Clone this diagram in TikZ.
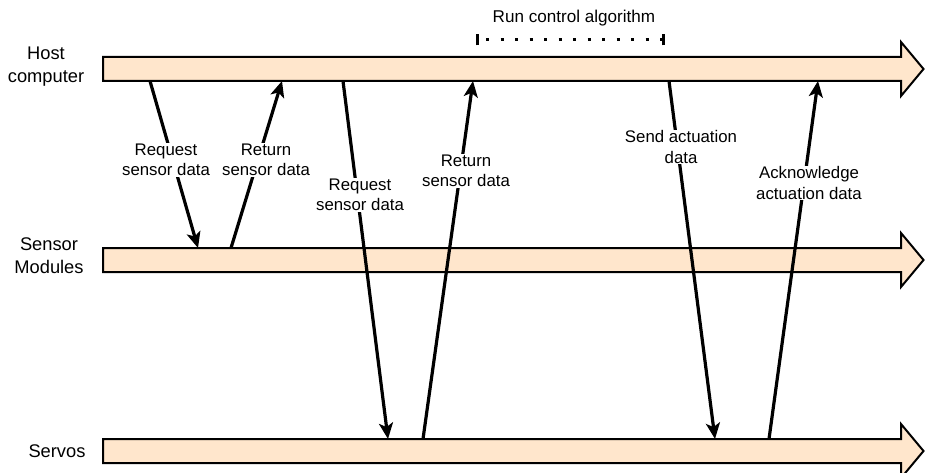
\documentclass[tikz,border=0pt]{standalone}
\usepackage{fontspec}
\setmainfont{Liberation Sans}
\usetikzlibrary{arrows.meta}
\definecolor{peach}{HTML}{FFE6CC}
\tikzset{
  band/.style={draw=black, line width=2pt, fill=peach, line join=miter},
  msg/.style={line width=3.2pt, -{Stealth[length=16pt,width=14pt,inset=4pt]}},
  lbl/.style={fill=white, inner sep=1pt, align=center, font=\fontsize{16.8}{20.5}\selectfont},
  side/.style={align=center, font=\fontsize{18.3}{23}\selectfont},
  tick/.style={line width=3pt}
}
\begin{document}
\begin{tikzpicture}[x=1pt,y=-1pt]
\useasboundingbox (0,0) rectangle (925,473);
% bands
\newcommand{\bandat}[1]{%
  \draw[band] (103,#1-12) -- (901,#1-12) -- (901,#1-27) -- (923.5,#1) -- (901,#1+27) -- (901,#1+12) -- (103,#1+12) -- cycle;}
\bandat{69}
\bandat{260}
\bandat{451}
% side labels
\node[side] (host) at (46,67) {Host\\computer};
\node[side] (sens) at (49,256) {Sensor\\Modules};
\node[side] (serv) at (57,451) {Servos};
% anchor coordinates
\coordinate (h1) at (150,81);   \coordinate (s1) at (198,248);
\coordinate (s2) at (231,248);  \coordinate (h2) at (282,81);
\coordinate (h3) at (343,81);   \coordinate (v3) at (388,439);
\coordinate (v4) at (423,439);  \coordinate (h4) at (473,81);
\coordinate (h5) at (669,81);   \coordinate (v5) at (715,439);
\coordinate (v6) at (769,439);  \coordinate (h6) at (818,81);
% messages
\draw[msg] (h1) -- (s1);
\draw[msg] (s2) -- (h2);
\draw[msg] (h3) -- (v3);
\draw[msg] (v4) -- (h4);
\draw[msg] (h5) -- (v5);
\draw[msg] (v6) -- (h6);
% labels
\node[lbl] (l1) at (166,160) {Request\\sensor data};
\node[lbl] (l2) at (266,160) {Return\\sensor data};
\node[lbl] (l3) at (360,195) {Request\\sensor data};
\node[lbl] (l4) at (466,171) {Return\\sensor data};
\node[lbl] (l5) at (681,147) {Send actuation\\data};
\node[lbl] (l6) at (809,183) {Acknowledge\\actuation data};
% run control algorithm
\node[lbl, font=\fontsize{17.1}{20.5}\selectfont] (run) at (574,18) {Run control algorithm};
\coordinate (ra) at (477,40);
\coordinate (rb) at (663,40);
\draw[line width=3pt, dash pattern=on 3pt off 11.5pt, dash phase=-9pt] (ra) -- (rb);
\draw[tick] ([yshift=-5.5pt]ra) -- ([yshift=5.5pt]ra);
\draw[tick] ([yshift=-5.5pt]rb) -- ([yshift=5.5pt]rb);
\end{tikzpicture}
\end{document}
